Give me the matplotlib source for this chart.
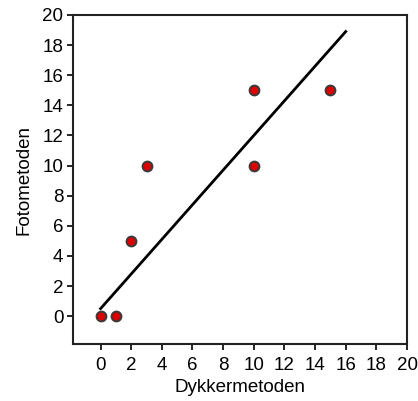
import matplotlib
matplotlib.use("Agg")
import matplotlib.pyplot as plt
import numpy as np

# Measurements: diver method vs photo method
dykker = [0, 1, 2, 3, 10, 10, 15]
foto = [0, 0, 5, 10, 15, 10, 15]

# Fitted line endpoints
fit_x = [0, 16]
fit_y = [0.5, 18.9]

ticks = np.arange(0, 21, 2)

plt.rcParams['font.family'] = ['Liberation Sans', 'DejaVu Sans']

fig = plt.figure(figsize=(4.18, 4.01), dpi=100)
ax = fig.add_axes([0.1746, 0.1421, 0.7991, 0.8205])

ax.plot(fit_x, fit_y, color='black', linewidth=2, zorder=2)
ax.scatter(dykker, foto, s=50, color='#dd0000', edgecolors='#3a3a3a',
           linewidths=1.4, zorder=3)

ax.set_xlim(-1.8, 20)
ax.set_ylim(-1.85, 20)
ax.set_xticks(ticks)
ax.set_yticks(ticks)
ax.tick_params(direction='out', length=4, width=1.2, labelsize=13.5, pad=3)
ax.tick_params(axis='x', pad=5)

for sp in ax.spines.values():
    sp.set_linewidth(1.5)
    sp.set_color('#222222')

ax.set_xlabel('Dykkermetoden', fontsize=13.5, labelpad=4)
ax.set_ylabel('Fotometoden', fontsize=13.5, labelpad=7)

plt.savefig('out.png', dpi=100)
